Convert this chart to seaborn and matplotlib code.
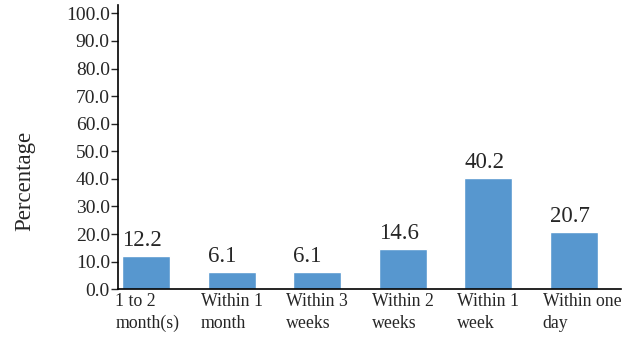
import matplotlib
matplotlib.use("Agg")
import matplotlib.pyplot as plt
import seaborn as sns
import pandas as pd

categories = ["1 to 2\nmonth(s)", "Within 1\nmonth", "Within 3\nweeks",
              "Within 2\nweeks", "Within 1\nweek", "Within one\nday"]
values = [12.2, 6.1, 6.1, 14.6, 40.2, 20.7]
yticks = [0, 10, 20, 30, 40, 50, 60, 70, 80, 90, 100]

sns.set_style("white")
plt.rcParams['font.family'] = ['Liberation Serif', 'DejaVu Serif']

df = pd.DataFrame({"cat": categories, "val": values})
bar_w = 0.56

fig = plt.figure(figsize=(6.22, 3.39), dpi=100)
ax = fig.add_axes([0.19, 0.147, 0.808, 0.838])
sns.barplot(data=df, x="cat", y="val", color="#5797CF", width=bar_w,
            saturation=1, ax=ax)

for i, v in enumerate(values):
    ax.text(i - bar_w / 2, v + 1.8, f"{v:.1f}", ha="left", va="bottom",
            fontsize=16.5)

ax.set_ylim(0, 103)
ax.set_yticks(yticks)
ax.set_yticklabels([f"{t:.1f}" for t in yticks], fontsize=14)
ax.set_xticks(range(len(categories)))
ax.set_xticklabels([])
for i, cat in enumerate(categories):
    ax.annotate(cat, xy=(i, 0), xycoords=("data", "axes fraction"),
                xytext=(-31, -4), textcoords="offset pixels",
                ha="left", va="top", fontsize=12.8, linespacing=1.35,
                annotation_clip=False)
ax.set_xlim(-0.33, 5.55)
ax.tick_params(axis="x", length=0, pad=3)
ax.tick_params(axis="y", length=5, width=1, direction="out", left=True, pad=1)
ax.set_xlabel("")
ax.set_ylabel("Percentage", fontsize=16.5, labelpad=16)
ax.yaxis.set_label_coords(-0.165, 0.38)
for s in ["top", "right"]:
    ax.spines[s].set_visible(False)
for s in ["left", "bottom"]:
    ax.spines[s].set_color("black")
    ax.spines[s].set_linewidth(1.2)

fig.savefig("out.png", dpi=100)
